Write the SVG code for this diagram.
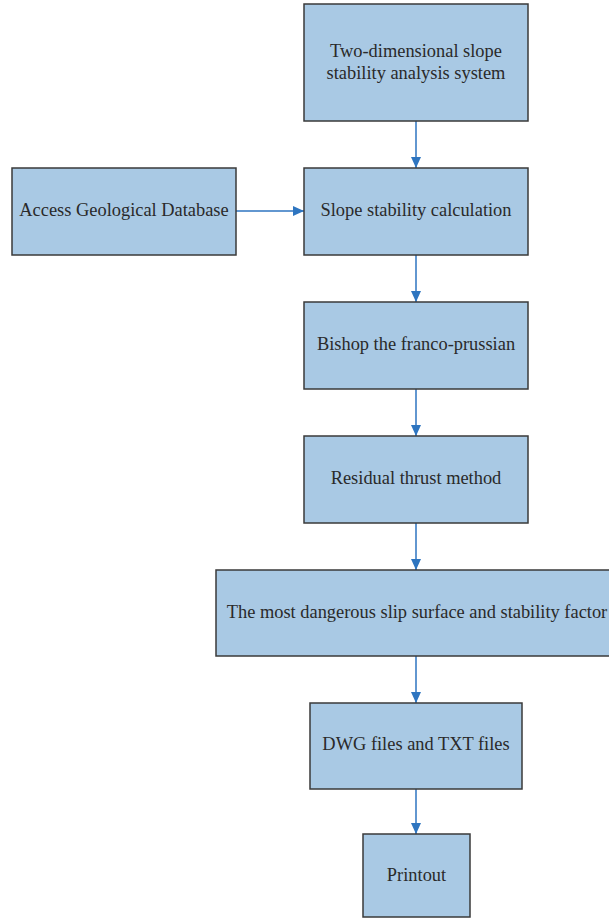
<svg xmlns="http://www.w3.org/2000/svg" width="609" height="919" viewBox="0 0 609 919">
<style>
.box{fill:#a9c9e4;stroke:#3a3a3a;stroke-width:1.5}
.t{font-family:"Liberation Serif","Times New Roman",serif;font-size:18.4px;fill:#2a2a2a;text-anchor:middle}
.c{stroke:#2e75c0;stroke-width:1.5;fill:none;marker-end:url(#ah)}
</style>
<defs>
<marker id="ah" markerWidth="12" markerHeight="12" refX="11" refY="5.5" orient="auto" markerUnits="userSpaceOnUse">
<path d="M0,0.5 L11,5.5 L0,10.5 Z" fill="#2e75c0"/>
</marker>
</defs>
<rect width="609" height="919" fill="#ffffff"/>
<g id="connectors">
<line class="c" x1="416" y1="121" x2="416" y2="168"/>
<line class="c" x1="236" y1="211" x2="304" y2="211"/>
<line class="c" x1="416" y1="255" x2="416" y2="302"/>
<line class="c" x1="416" y1="389" x2="416" y2="436"/>
<line class="c" x1="416" y1="523" x2="416" y2="570"/>
<line class="c" x1="416" y1="656" x2="416" y2="703"/>
<line class="c" x1="416" y1="789" x2="416" y2="834"/>
</g>
<g id="n1"><rect class="box" x="304" y="4" width="224" height="117"/>
<text class="t" x="416" y="57">Two-dimensional slope</text><text class="t" x="416" y="79">stability analysis system</text></g>
<g id="n2"><rect class="box" x="12" y="168" width="224" height="87"/>
<text class="t" x="124" y="216">Access Geological Database</text></g>
<g id="n3"><rect class="box" x="304" y="168" width="224" height="87"/>
<text class="t" x="416" y="216">Slope stability calculation</text></g>
<g id="n4"><rect class="box" x="304" y="302" width="224" height="87"/>
<text class="t" x="416" y="350">Bishop the franco-prussian</text></g>
<g id="n5"><rect class="box" x="304" y="436" width="224" height="87"/>
<text class="t" x="416" y="484">Residual thrust method</text></g>
<g id="n6"><rect class="box" x="216" y="570" width="400" height="86"/>
<text class="t" x="417" y="618">The most dangerous slip surface and stability factor</text></g>
<g id="n7"><rect class="box" x="310" y="703" width="212" height="86"/>
<text class="t" x="416" y="750">DWG files and TXT files</text></g>
<g id="n8"><rect class="box" x="363" y="834" width="107" height="83"/>
<text class="t" x="416.5" y="881">Printout</text></g>
</svg>
